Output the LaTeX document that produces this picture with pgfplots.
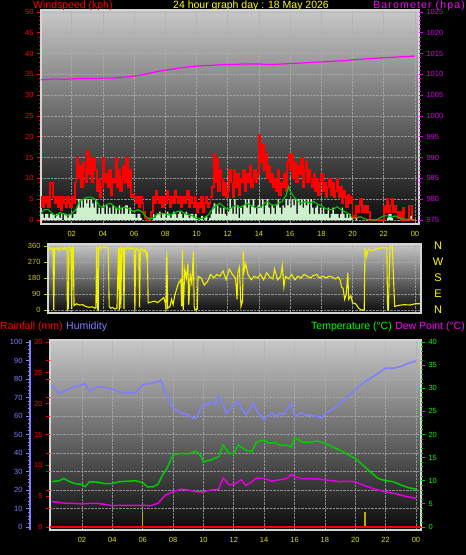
\documentclass[border=0pt]{standalone}
\usepackage{pgfplots}
\pgfplotsset{compat=1.18}
\usepackage{pgfplotstable}
\usepackage{fontspec}
\setmainfont{Liberation Sans}
\newfontfamily\spacedfont[LetterSpace=11]{Liberation Sans}
\definecolor{tickylw}{RGB}{225,225,0}
\definecolor{titylw}{RGB}{255,255,0}
\definecolor{mag}{RGB}{255,0,255}
\definecolor{magt}{RGB}{215,0,235}
\definecolor{paleg}{RGB}{205,240,205}
\definecolor{avgc}{RGB}{0,200,0}
\definecolor{dirc}{RGB}{240,240,0}
\definecolor{olivec}{RGB}{200,200,0}
\definecolor{humc}{RGB}{128,128,255}
\definecolor{tempc}{RGB}{0,205,0}
\definecolor{templ}{RGB}{0,255,0}
\definecolor{dewc}{RGB}{225,0,225}
\definecolor{framec}{RGB}{212,212,212}
\definecolor{gtop}{RGB}{200,200,200}
\definecolor{gbot}{RGB}{10,10,10}
\definecolor{gridc}{RGB}{175,175,175}
\definecolor{sunc}{RGB}{185,175,0}

\pgfplotstableread[row sep=\\]{
t g s\\
0.0 5.5 1.5\\ 0.1 3 1.5\\ 0.2 5.5 0.5\\ 0.3 4 1.5\\ 0.4 5.5 1.5\\ 0.5 3 0.5\\ 0.6 9 1.5\\ 0.7 9 1.5\\ 0.8 5.5 1.5\\ 0.9 4 0.5\\
1.0 5.5 1.5\\ 1.1 3 1.5\\ 1.2 5.5 0.5\\ 1.3 2.5 1.5\\ 1.4 5.5 0\\ 1.5 4 1.5\\ 1.6 3 1.5\\ 1.7 5.5 0.5\\ 1.8 4 1.5\\ 1.9 3 1.5\\
2.0 5.5 0.5\\ 2.1 4 1.5\\ 2.2 9 1.5\\ 2.3 15 3\\ 2.4 10 5\\ 2.5 13 3\\ 2.6 8 5\\ 2.7 14 3\\ 2.8 12 5\\ 2.9 9 4\\
3.0 16.5 5\\ 3.1 11 3\\ 3.2 15 5\\ 3.3 9 4\\ 3.4 15 3\\ 3.5 12 5\\ 3.6 7 1.5\\ 3.7 10 3\\ 3.8 5.5 1.5\\ 3.9 8 3\\
4.0 15 3.5\\ 4.1 9 1.5\\ 4.2 11 3.5\\ 4.3 8 1.5\\ 4.4 12 3\\ 4.5 6 1.5\\ 4.6 10 3.5\\ 4.7 9 1.5\\ 4.8 15 3\\ 4.9 8 1.5\\
5.0 12 3.5\\ 5.1 7 1.5\\ 5.2 10 3\\ 5.3 13 1.5\\ 5.4 9 3.5\\ 5.5 15 3.5\\ 5.6 8 1.5\\ 5.7 12 3\\ 5.8 5.5 1.5\\ 5.9 6 1.5\\
6.0 5.5 1.5\\ 6.1 4 0.5\\ 6.2 5.5 1.5\\ 6.3 3 1.5\\ 6.4 5.5 0.5\\ 6.5 4 0\\ 6.6 2 0\\ 6.7 0.5 0\\ 6.8 0 0\\ 6.9 0 0\\
7.0 0.5 0\\ 7.1 2 0\\ 7.2 5.5 1.5\\ 7.3 4 0.5\\ 7.4 7 1.5\\ 7.5 5.5 1.5\\ 7.6 4 2\\ 7.7 5.5 0.5\\ 7.8 3 1.5\\ 7.9 5.5 1.5\\
8.0 4 0.5\\ 8.1 7 2\\ 8.2 5.5 1.5\\ 8.3 3 0.5\\ 8.4 5.5 1.5\\ 8.5 4 2\\ 8.6 7 1.5\\ 8.7 5.5 0.5\\ 8.8 4 1.5\\ 8.9 5.5 2\\
9.0 3 1.5\\ 9.1 5.5 0.5\\ 9.2 4 1.5\\ 9.3 5.5 2\\ 9.4 7 1.5\\ 9.5 3 0.5\\ 9.6 5.5 1.5\\ 9.7 4 1.5\\ 9.8 3 0.5\\ 9.9 5.5 1.5\\
10.0 2 0.5\\ 10.1 4 0\\ 10.2 3 0.5\\ 10.3 5.5 1\\ 10.4 2 0\\ 10.5 4 0.5\\ 10.6 5.5 1\\ 10.7 3 0\\ 10.8 4 0.5\\ 10.9 5.5 1.5\\
11.0 8 3\\ 11.1 16 4\\ 11.2 9 1.5\\ 11.3 15 3.5\\ 11.4 7 1.5\\ 11.5 12 3\\ 11.6 10 1.5\\ 11.7 6 3\\ 11.8 9 1.5\\ 11.9 5.5 1\\
12.0 7 2\\ 12.1 12 5\\ 12.2 9 3\\ 12.3 5.5 1.5\\ 12.4 12 5\\ 12.5 8 1.5\\ 12.6 11 3.5\\ 12.7 6 0.5\\ 12.8 10 3\\ 12.9 9 1.5\\
13.0 12 3.5\\ 13.1 7 5\\ 13.2 11 3\\ 13.3 9 5\\ 13.4 13 1.5\\ 13.5 8 3.5\\ 13.6 10 5\\ 13.7 12 3\\ 13.8 9 1.5\\ 13.9 11 3.5\\
14.0 20.5 5\\ 14.1 14 3\\ 14.2 18 5\\ 14.3 12 1.5\\ 14.4 16 3.5\\ 14.5 10 5\\ 14.6 13 3\\ 14.7 9 1.5\\ 14.8 11 3.5\\ 14.9 8 3\\
15.0 10 1.5\\ 15.1 7 3.5\\ 15.2 12 5\\ 15.3 6 3\\ 15.4 9 1.5\\ 15.5 8 3.5\\ 15.6 11 3\\ 15.7 7 5\\ 15.8 14 3.5\\ 15.9 16 5\\
16.0 12 3\\ 16.1 16 5\\ 16.2 10 3.5\\ 16.3 14 5\\ 16.4 9 1.5\\ 16.5 13 5\\ 16.6 11 3.5\\ 16.7 15 5\\ 16.8 8 3\\ 16.9 12 5\\
17.0 14 3.5\\ 17.1 9 5\\ 17.2 12 1.5\\ 17.3 10 5\\ 17.4 8 3\\ 17.5 11 1.5\\ 17.6 7 3\\ 17.7 10 3.5\\ 17.8 6 1.5\\ 17.9 9 3\\
18.0 11 1.5\\ 18.1 7 3\\ 18.2 9 1.5\\ 18.3 5.5 1.5\\ 18.4 8 3\\ 18.5 10 0.5\\ 18.6 6 1.5\\ 18.7 9 3\\ 18.8 5.5 1.5\\ 18.9 7 1.5\\
19.0 10 1.5\\ 19.1 5.5 0.5\\ 19.2 8 1.5\\ 19.3 4 3\\ 19.4 7 1.5\\ 19.5 5.5 0.5\\ 19.6 3 1.5\\ 19.7 6 0.5\\ 19.8 4 1.5\\ 19.9 5.5 0.5\\
20.0 1 0\\ 20.1 0.5 0\\ 20.2 3.5 0.5\\ 20.3 2 0\\ 20.4 3.5 0\\ 20.5 5 0\\ 20.6 2 0\\ 20.7 3.5 0\\ 20.8 2 0\\ 20.9 3.5 0\\
21.0 2 0\\ 21.1 0 0\\ 21.2 0 0\\ 21.3 0 0\\ 21.4 0 0\\ 21.5 0 0\\ 21.6 0 0\\ 21.7 0 0\\ 21.8 0 0\\ 21.9 0 0\\
22.0 3.5 0\\ 22.1 2 0\\ 22.2 5 0.5\\ 22.3 2 1.5\\ 22.4 3.5 1.5\\ 22.5 5 0.5\\ 22.6 2 0\\ 22.7 3.5 0\\ 22.8 2 0\\ 22.9 0.5 0\\
23.0 2 0\\ 23.1 0 0\\ 23.2 3 0\\ 23.3 0 0\\ 23.4 0 0\\ 23.5 0 0\\ 23.6 3.5 0\\ 23.7 3.5 1\\ 23.8 0 0\\ 23.9 0 0\\
24.0 0 0\\
}\windtab

\pgfplotsset{
  every axis/.append style={scale only axis, tick align=outside,
    /pgf/number format/assume math mode=true, /pgf/number format/1000 sep={},
    scaled ticks=false, tick label style={font=\fontsize{7.5}{8}\selectfont},
    major tick length=4pt, minor tick length=2pt},
  panelbg/.style={axis background/.style={top color=gtop, bottom color=gbot}},
  gridst/.style={grid style={draw=gridc, densely dotted, line width=0.6pt, opacity=0.75}},
}

\begin{document}
\begin{tikzpicture}
\fill[black] (0pt,0pt) rectangle (466pt,555pt);

% ---------- top panel: wind ----------
\begin{axis}[at={(41pt,331pt)}, anchor=south west, width=378pt, height=214pt,
  xmin=0.03, xmax=24.26, ymin=-0.96, ymax=50.48, panelbg, gridst,
  axis line style={draw=framec, line width=1.2pt},
  xtick={2,4,...,24}, xticklabels={02,04,06,08,10,12,14,16,18,20,22,00},
  xtick pos=bottom, ytick pos=left,
  x tick label style={text=tickylw}, x tick style={draw=none},
  ytick={0,5,...,50}, minor y tick num=4,
  y tick style={draw=red, line width=0.8pt}, y tick label style={text=red},
  xmajorgrids, ymajorgrids]
\addplot[const plot, draw=red, line width=1.8pt] table[x=t,y=g] {\windtab};
\addplot[const plot, draw=none, fill=paleg] table[x=t,y=s] {\windtab} \closedcycle;
\addplot[avgc, line width=1.1pt] coordinates {(0,1.5) (0.25,2.5) (0.5,2.5) (0.75,1.5) (1,1) (1.25,1.8) (1.5,1.5) (1.75,1) (2,1.5) (2.25,2.5) (2.5,4.5) (2.75,5) (3,5.5) (3.25,5.5) (3.5,5) (3.75,3.5) (4,3) (4.25,3.8) (4.5,4) (4.75,3.2) (5,2.5) (5.25,3) (5.5,3) (5.75,2.5) (6,2) (6.25,2.5) (6.5,2) (6.75,0.8) (7,0.2) (7.25,0.5) (7.5,1.5) (7.75,1.5) (8,1.5) (8.25,1.2) (8.5,1.5) (8.75,2) (9,2.2) (9.25,1.5) (9.5,1.2) (9.75,1) (10,0.3) (10.25,0.3) (10.5,0.6) (10.75,1.2) (11,2.5) (11.25,3.5) (11.5,4) (11.75,3.2) (12,2.5) (12.25,3) (12.5,3.5) (12.75,3) (13,3.5) (13.25,4) (13.5,3.5) (13.75,3) (14,3) (14.25,3.5) (14.5,4.5) (14.75,3.8) (15,3.5) (15.25,4) (15.5,4.5) (15.75,6) (15.9,8) (16,7) (16.25,5.5) (16.5,4.5) (16.75,4) (17,4.5) (17.25,4) (17.5,4.5) (17.75,3.8) (18,3.5) (18.25,2.8) (18.5,2.5) (18.75,2.5) (19,3.2) (19.25,2.5) (19.5,2) (19.75,1.5) (20,0.5) (20.25,0.5) (20.5,0.8) (20.75,0.3) (21,0.1) (21.25,0) (21.5,0) (21.75,0.5) (22,1) (22.25,1) (22.5,0.8) (22.75,1) (23,0.5) (23.25,0.2) (23.5,0.2) (23.75,0.1) (24,0)};
\end{axis}

\begin{axis}[at={(41pt,331pt)}, anchor=south west, width=378pt, height=214pt,
  xmin=0.03, xmax=24.26, ymin=974.04, ymax=1025.48,
  hide x axis, axis y line*=right, axis line style={draw=none},
  ytick={975,980,...,1025}, minor y tick num=4,
  y tick style={draw=magt, line width=0.8pt}, y tick label style={text=magt}]
\addplot[mag, line width=1.2pt] coordinates {(0,1008.7) (0.5,1008.8) (1,1008.9) (1.5,1008.8) (2,1008.9) (2.5,1009.0) (3,1009.0) (3.5,1009.0) (4,1009.1) (4.5,1009.1) (5,1009.2) (5.5,1009.4) (6,1009.6) (6.5,1009.9) (7,1010.3) (7.5,1010.7) (8,1011.0) (8.5,1011.3) (9,1011.6) (9.5,1011.8) (10,1012.0) (10.5,1012.1) (11,1012.2) (11.5,1012.3) (12,1012.4) (12.5,1012.4) (13,1012.5) (13.5,1012.5) (14,1012.5) (14.5,1012.4) (15,1012.4) (15.5,1012.5) (16,1012.6) (16.5,1012.7) (17,1012.8) (17.5,1012.9) (18,1013.0) (18.5,1013.1) (19,1013.2) (19.5,1013.3) (20,1013.5) (20.5,1013.6) (21,1013.8) (21.5,1013.9) (22,1014.0) (22.5,1014.1) (23,1014.2) (23.5,1014.3) (24,1014.4)};
\end{axis}

% ---------- middle panel: wind direction ----------
\begin{axis}[at={(48pt,242pt)}, anchor=south west, width=373pt, height=69pt,
  xmin=0.48, xmax=24.39, ymin=-16.9, ymax=371.2, panelbg, gridst,
  axis line style={draw=framec, line width=1.2pt},
  xtick={2,4,...,24}, xticklabels={}, x tick style={draw=none},
  ytick={0,90,180,270,360}, ytick pos=left,
  y tick style={draw=olivec, line width=0.8pt}, y tick label style={text=olivec},
  xmajorgrids, ymajorgrids]
\addplot[dirc, line width=1.1pt] coordinates {(0.5,345) (0.6,340) (0.7,350) (0.8,338) (0.85,0) (0.9,345) (1.0,340) (1.1,350) (1.2,335) (1.3,345) (1.4,350) (1.5,340) (1.6,352) (1.7,345) (1.72,0) (1.78,10) (1.82,355) (1.95,350) (2.0,5) (2.05,355) (2.1,350) (2.15,25) (2.3,35) (2.5,28) (2.7,30) (2.9,20) (3.1,15) (3.3,18) (3.5,10) (3.55,15) (3.6,360) (3.65,5) (3.7,0) (3.72,350) (3.8,355) (3.9,345) (4.0,358) (4.1,350) (4.2,355) (4.35,345) (4.4,20) (4.5,10) (4.6,15) (4.8,5) (4.9,10) (5.0,350) (5.05,0) (5.1,355) (5.15,10) (5.2,350) (5.3,345) (5.35,5) (5.4,350) (5.5,345) (5.6,355) (5.7,340) (5.8,350) (5.9,345) (6.0,350) (6.05,0) (6.1,340) (6.2,345) (6.3,330) (6.35,15) (6.4,340) (6.5,345) (6.6,330) (6.7,340) (6.8,300) (6.85,330) (6.9,40) (7.1,45) (7.3,50) (7.5,42) (7.7,55) (7.9,70) (8.0,40) (8.05,0) (8.1,330) (8.15,10) (8.3,20) (8.4,60) (8.5,30) (8.6,80) (8.7,110) (8.8,140) (8.9,160) (9.0,170) (9.05,20) (9.1,340) (9.15,0) (9.25,230) (9.35,180) (9.45,260) (9.5,30) (9.6,200) (9.7,150) (9.8,330) (9.85,20) (9.9,0) (10.05,5) (10.1,190) (10.3,180) (10.5,140) (10.7,160) (10.9,200) (11.1,180) (11.3,200) (11.5,190) (11.7,220) (11.9,170) (12.1,230) (12.3,200) (12.5,180) (12.6,60) (12.65,210) (12.75,240) (12.85,20) (12.95,50) (13.0,330) (13.05,220) (13.15,260) (13.3,200) (13.5,170) (13.7,190) (13.9,180) (14.1,200) (14.3,170) (14.5,210) (14.7,185) (14.9,175) (15.0,230) (15.2,170) (15.4,190) (15.5,250) (15.6,130) (15.7,190) (15.9,175) (16.1,200) (16.3,170) (16.5,190) (16.7,180) (16.9,200) (17.1,190) (17.3,180) (17.5,195) (17.7,200) (17.9,180) (18.1,190) (18.3,180) (18.5,190) (18.7,185) (18.9,175) (19.1,185) (19.2,170) (19.3,130) (19.4,120) (19.5,60) (19.6,90) (19.7,210) (19.75,60) (19.9,80) (20.0,40) (20.2,35) (20.4,10) (20.55,0) (20.75,0) (20.8,350) (20.9,300) (21.0,340) (21.3,335) (21.6,345) (21.9,350) (22.2,350) (22.25,5) (22.3,0) (22.4,355) (22.55,360) (22.7,20) (22.9,25) (23.3,30) (23.7,28) (24.0,35) (24.35,35)};
\end{axis}

% ---------- bottom panel ----------
\begin{axis}[at={(50pt,25pt)}, anchor=south west, width=371pt, height=190pt,
  xmin=-0.105, xmax=24.33, ymin=-1.62, ymax=101.08, panelbg, gridst,
  axis line style={draw=framec, line width=1.2pt},
  xtick={2,4,...,24}, xticklabels={02,04,06,08,10,12,14,16,18,20,22,00},
  xtick pos=bottom, ytick pos=left,
  x tick label style={text=tickylw}, x tick style={draw=none},
  ytick={0,16.6667,33.3333,50,66.6667,83.3333,100}, yticklabels={0,5,10,15,20,25,30},
  minor y tick num=4,
  y tick style={draw=red, line width=0.8pt}, y tick label style={text=red},
  extra y ticks={10,20,...,90}, extra y tick labels={},
  extra y tick style={grid=major, tick style={draw=none}},
  xmajorgrids]
\addplot[humc, line width=1.6pt] coordinates {(0,76.8) (0.5,72.3) (1,74) (1.5,75.9) (2,76.8) (2.2,77.5) (2.5,73.3) (3,75.9) (3.5,75.5) (4,74.6) (4.5,72.9) (5,72.3) (5.5,72.6) (6,76.8) (6.5,77.7) (7,78.6) (7.2,79.5) (7.5,72.3) (8,64.3) (8.5,61.6) (9,60.7) (9.3,59) (9.5,58.9) (9.7,62) (10,67) (10.3,66) (10.5,67.9) (10.8,66) (11,70.6) (11.2,68) (11.5,61.6) (11.8,64) (12,66.1) (12.3,67.9) (12.5,64) (12.8,60.7) (13,63) (13.3,67) (13.5,63) (13.7,61) (14,58) (14.2,60) (14.5,61.6) (14.8,59.5) (15,61.6) (15.3,61) (15.5,63.4) (15.8,67) (16,59.8) (16.3,61) (16.5,61.6) (16.8,60) (17,60.7) (17.3,60) (17.5,59.8) (17.8,58.9) (18,61.6) (18.5,63.4) (19,67) (19.5,70.6) (20,74.2) (20.5,77.8) (21,80.4) (21.5,83.1) (22,85.8) (22.5,85.8) (23,86.7) (23.5,88.5) (24,89.7)};
\addplot[ycomb, draw=sunc, line width=1.5pt] coordinates {(6.0,8.3) (20.65,8.3)};
\addplot[red, line width=2.2pt] coordinates {(-0.1,0) (6,0) (12,0) (18,0) (24.3,0)};
\end{axis}

\begin{axis}[at={(50pt,25pt)}, anchor=south west, width=371pt, height=190pt,
  xmin=-0.105, xmax=24.33, ymin=-0.65, ymax=40.43,
  hide x axis, axis y line*=right, axis line style={draw=none},
  ytick={0,5,...,40}, minor y tick num=4,
  y tick style={draw=tempc, line width=0.8pt}, y tick label style={text=templ}]
\addplot[tempc, line width=1.5pt] coordinates {(0,9.8) (0.5,10.0) (0.8,10.5) (1.2,9.8) (1.5,9.4) (2,9.2) (2.2,8.7) (2.5,9.8) (3,9.7) (3.5,9.4) (4,9.4) (4.5,9.8) (5,9.9) (5.5,10.0) (6,9.6) (6.3,8.7) (6.7,8.7) (7,9.2) (7.3,11.2) (7.6,12.7) (8,15.6) (8.5,15.9) (9,15.8) (9.5,16.4) (9.8,15.5) (10,14.1) (10.5,14.5) (11,15.2) (11.3,17.7) (11.7,15.9) (12,15.9) (12.3,17.7) (12.8,16.6) (13.2,16.3) (13.5,18.4) (14,18.8) (14.3,18.1) (14.7,18.3) (15,17.7) (15.5,17.7) (15.8,17.3) (16,19.3) (16.5,18.4) (17,18.3) (17.5,18.6) (18,18.1) (18.5,17.3) (19,16.6) (19.5,15.7) (20,14.8) (20.5,13.4) (21,11.9) (21.5,10.5) (22,10.0) (22.5,9.8) (23,9.1) (23.5,8.5) (24,8.2)};
\addplot[dewc, line width=1.5pt] coordinates {(0,5.5) (0.5,5.3) (1,5.1) (1.5,5.1) (2,5.0) (2.5,5.1) (3,5.1) (3.5,4.9) (4,4.6) (4.5,4.7) (5,4.7) (5.5,4.7) (6,4.7) (6.5,4.6) (7,5.1) (7.5,6.9) (8,7.6) (8.5,8.2) (9,8.0) (9.5,7.6) (10,7.6) (10.5,8.0) (11,8.2) (11.3,10.6) (11.7,9.1) (12,9.2) (12.5,10.2) (12.8,9.0) (13.2,9.8) (13.5,10.6) (14,10.5) (14.5,9.9) (15,10.2) (15.5,10.5) (15.8,11.4) (16,10.9) (16.5,10.4) (17,10.4) (17.5,10.4) (18,10.2) (18.5,10.0) (19,9.8) (19.5,9.9) (20,9.8) (20.5,9.1) (21,8.5) (21.5,8.0) (22,7.6) (22.5,7.3) (23,6.9) (23.5,6.5) (24,6.2)};
\end{axis}

\begin{axis}[at={(30pt,25pt)}, anchor=south west, width=391pt, height=190pt,
  xmin=0, xmax=1, ymin=-1.62, ymax=101.08,
  hide x axis, axis y line*=left, axis line style={draw=humc, line width=1.6pt},
  ytick={0,10,...,100}, minor y tick num=4,
  y tick style={draw=humc, line width=0.8pt}, y tick label style={text=humc}]
\addplot[draw=none] coordinates {(0.5,50)};
\end{axis}

% ---------- titles ----------
\begin{scope}[every node/.style={inner sep=0pt, font=\fontsize{10.5}{12}\selectfont}]
\node[anchor=west, text=red] at (33pt,549pt) {Windspeed (kph)};
\node[text=titylw] at (251pt,549pt) {24 hour graph day : 18 May 2026};
\node[anchor=east, text=mag, font=\spacedfont\fontsize{10.5}{12}\selectfont] at (465pt,549pt) {Barometer (hpa)};
\node[anchor=west, text=red] at (0pt,228pt) {Rainfall (mm)};
\node[anchor=west, text=humc] at (66pt,228pt) {Humidity};
\node[anchor=east, text=templ] at (392pt,228pt) {Temperature (°C)};
\node[anchor=east, text=mag] at (465pt,228pt) {Dew Point (°C)};
\end{scope}
\begin{scope}[every node/.style={inner sep=0pt, text=titylw, font=\fontsize{11}{12}\selectfont}]
\node at (438pt,309pt) {N};
\node at (438pt,293pt) {W};
\node at (438pt,277pt) {S};
\node at (438pt,261pt) {E};
\node at (438pt,245pt) {N};
\end{scope}
\end{tikzpicture}
\end{document}
